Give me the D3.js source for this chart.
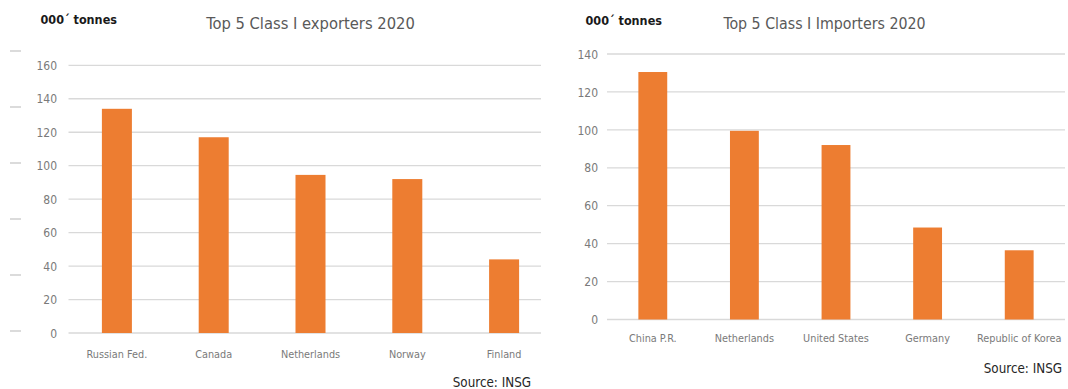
<!DOCTYPE html>
<html>
<head>
<meta charset="utf-8">
<script src="https://cdn.jsdelivr.net/npm/d3@7"></script>
<style>
  html, body { margin: 0; padding: 0; background: #fff; }
  svg { display: block; }
  text { font-family: "DejaVu Sans Condensed", "Liberation Sans Narrow", "Liberation Sans", sans-serif; }
</style>
</head>
<body>
<svg id="chart" width="1068" height="389"></svg>
<script>
// ---- Data ----
const exportCountries = ["Russian Fed.", "Canada", "Netherlands", "Norway", "Finland"];
const exportValues = [134, 117, 94.5, 92, 44];
const exportTicks = [0, 20, 40, 60, 80, 100, 120, 140, 160];

const importCountries = ["China P.R.", "Netherlands", "United States", "Germany", "Republic of Korea"];
const importValues = [130.5, 99.5, 92, 48.5, 36.5];
const importTicks = [0, 20, 40, 60, 80, 100, 120, 140];

const unitLabel = "000´ tonnes";
const exportTitle = "Top 5 Class I exporters 2020";
const importTitle = "Top 5 Class I Importers 2020";
const sourceLabel = "Source: INSG";

// ---- Drawing ----
const svg = d3.select("#chart");
const BAR = "#ED7D31";
const FONT = "'DejaVu Sans Condensed', 'Liberation Sans Narrow', sans-serif";

function panel(cfg) {
  const g = svg.append("g");
  const clipId = "clip" + cfg.id;
  svg.append("clipPath").attr("id", clipId).append("rect")
    .attr("x", cfg.clipX0).attr("y", 0).attr("width", cfg.clipX1 - cfg.clipX0).attr("height", 389);

  const x = d3.scaleBand().domain(cfg.cats).range(cfg.xRange)
    .paddingInner(cfg.pad).paddingOuter(cfg.pad / 2);
  const y = d3.scaleLinear().domain([0, d3.max(cfg.ticks)]).range(cfg.yRange);

  const plot = g.append("g").attr("clip-path", `url(#${clipId})`);

  // gridlines
  plot.selectAll("line.grid").data(cfg.ticks).join("line")
    .attr("class", "grid")
    .attr("x1", cfg.gridX0).attr("x2", cfg.gridX1)
    .attr("y1", d => y(d)).attr("y2", d => y(d))
    .attr("stroke", "#d9d9d9").attr("stroke-width", 1.3);

  // bars
  plot.selectAll("rect.bar").data(cfg.vals).join("rect")
    .attr("class", "bar")
    .attr("x", (d, i) => x(cfg.cats[i]))
    .attr("width", x.bandwidth())
    .attr("y", d => y(d))
    .attr("height", d => y(0) - y(d))
    .attr("fill", BAR);

  // y tick labels
  const yAxis = d3.axisLeft(y).tickValues(cfg.ticks).tickSize(0).tickPadding(0);
  const ya = g.append("g").attr("transform", `translate(${cfg.tickX},0)`).call(yAxis);
  ya.select(".domain").remove();
  ya.selectAll("text").attr("fill", "#7a7a7a").attr("font-size", 12)
    .attr("font-family", FONT)
    .attr("dy", "0.35em").attr("x", 0);

  // x category labels
  const xAxis = d3.axisBottom(x).tickSize(0).tickPadding(0);
  const xa = g.append("g").attr("transform", `translate(0,${cfg.catY})`).call(xAxis);
  xa.select(".domain").remove();
  xa.selectAll("text").attr("fill", "#7a7a7a").attr("font-size", 10.8)
    .attr("font-family", FONT)
    .attr("dy", 0).attr("y", 0);

  // title
  g.append("text").attr("x", cfg.titleX).attr("y", cfg.titleY)
    .attr("text-anchor", "middle").attr("font-size", cfg.titleSize).attr("fill", "#595959")
    .text(cfg.title);

  // unit label
  g.append("text").attr("x", cfg.unitX).attr("y", cfg.unitY)
    .attr("font-size", 12.5).attr("font-weight", "bold").attr("fill", "#1a1a1a")
    .text(unitLabel);

  // source
  g.append("text").attr("x", cfg.srcX).attr("y", cfg.srcY)
    .attr("text-anchor", "end").attr("font-size", 13.3).attr("fill", "#262626")
    .text(sourceLabel);
}

// faint side dashes at the far left of the first panel
const dashYs = d3.range(6);
const dashScale = d3.scaleLinear().domain([0, 5]).range([51, 331]);
svg.selectAll("line.dash").data(dashYs).join("line")
  .attr("class", "dash")
  .attr("x1", 10).attr("x2", 21)
  .attr("y1", d => dashScale(d)).attr("y2", d => dashScale(d))
  .attr("stroke", "#cfcfcf").attr("stroke-width", 1.5);

panel({
  id: "L", cats: exportCountries, vals: exportValues, ticks: exportTicks,
  xRange: [68.5, 552.5], pad: 0.69, yRange: [333, 65.3],
  gridX0: 68.5, gridX1: 541, clipX0: 0, clipX1: 541,
  tickX: 57, catY: 358,
  title: exportTitle, titleSize: 16.4, titleX: 310.5, titleY: 29,
  unitX: 40.5, unitY: 24,
  srcX: 531, srcY: 386.5
});

panel({
  id: "R", cats: importCountries, vals: importValues, ticks: importTicks,
  xRange: [607, 1065], pad: 0.685, yRange: [319.5, 54],
  gridX0: 607, gridX1: 1065, clipX0: 545, clipX1: 1068,
  tickX: 598, catY: 342,
  title: importTitle, titleSize: 15.8, titleX: 824.5, titleY: 28.5,
  unitX: 585.5, unitY: 25,
  srcX: 1062, srcY: 373
});
</script>
</body>
</html>
